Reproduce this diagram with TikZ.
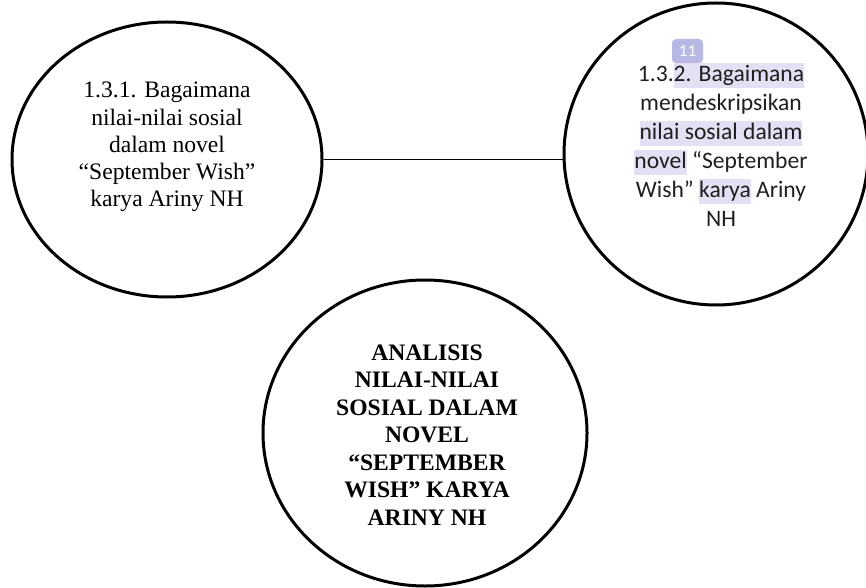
\documentclass[tikz,border=0pt]{standalone}
\usepackage{fontspec}
\setmainfont{Liberation Serif}
\newfontfamily\calibri{Carlito}
\usetikzlibrary{shapes.geometric,positioning}

\definecolor{hilite}{RGB}{226,224,243}
\definecolor{tagfill}{RGB}{184,184,228}
\newcommand{\hl}[1]{{\setlength{\fboxsep}{0pt}\colorbox{hilite}{\rule[-3.3pt]{0pt}{12.5pt}#1}}}

\tikzset{
  bubble/.style={ellipse,draw,line width=1.5pt,inner sep=0pt},
  qtext/.style={align=center,inner sep=0pt,font=\fontsize{11.8}{13.6}\selectfont},
}

\begin{document}
\begin{tikzpicture}[x=0.5pt,y=-0.5pt]
   \useasboundingbox (0,0) rectangle (866,588);

   % rumusan masalah
   \node[bubble,minimum width=155pt,minimum height=137.5pt] (q1) at (167,159.5) {};
   \node[qtext] (q1txt) at (167,147) {1.3.1. Bagaimana\\nilai-nilai sosial\\dalam novel\\“September Wish”\\karya Ariny NH};

   \node[bubble,minimum width=152pt,minimum height=151pt] (q2) at (716,154) {};
   \node[qtext,font=\calibri\fontsize{11.8}{14.5}\selectfont,text=black!88] (q2txt) at (721,145)
     {1.3.\hl{2. Bagaimana}\\mendeskripsikan\\\hl{nilai sosial dalam}\\\hl{novel} “September\\Wish” \hl{karya} Ariny\\NH};
   \node[fill=tagfill,rounded corners=2pt,minimum width=15.5pt,minimum height=12pt,inner sep=0pt,
     text=white,font=\calibri\fontsize{8.5}{9}\selectfont] (tag) at (687.5,51) {11};

   \draw[line width=0.6pt] (q1.east) -- (q1.east -| q2.west);

   % judul
   \node[bubble,minimum width=162pt,minimum height=153pt] (judul) at (425,433) {};
   \node[qtext,font=\bfseries\fontsize{11.8}{13.75}\selectfont] (judultxt) at (427,435)
     {ANALISIS\\NILAI-NILAI\\SOSIAL DALAM\\NOVEL\\“SEPTEMBER\\WISH” KARYA\\ARINY NH};
\end{tikzpicture}
\end{document}
